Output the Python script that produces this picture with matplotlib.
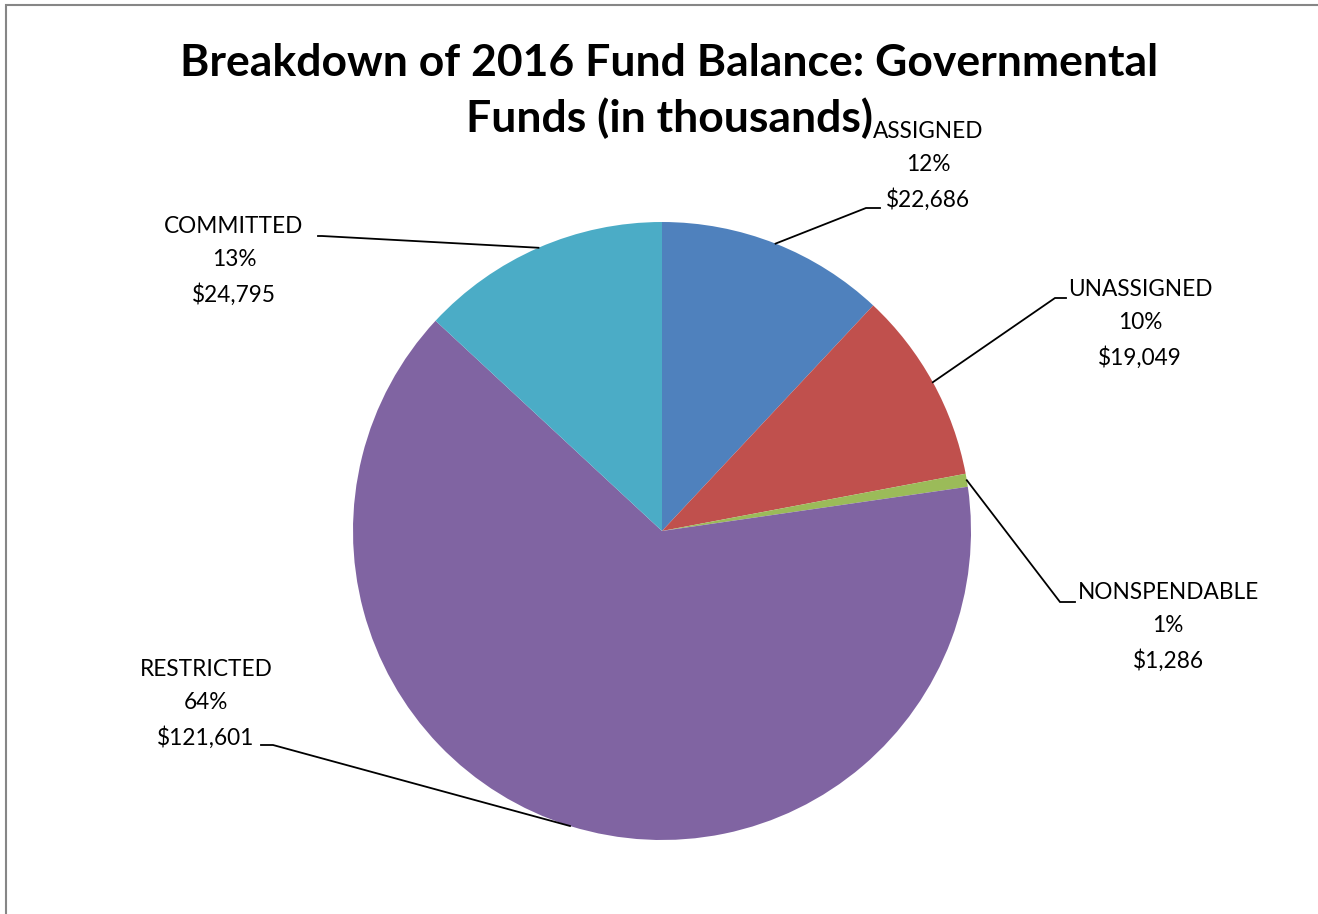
import numpy as np
import matplotlib
matplotlib.use("Agg")
import matplotlib.pyplot as plt
from matplotlib.patches import Rectangle

# fund balance categories (in thousands), clockwise from 12 o'clock
categories = ["ASSIGNED", "UNASSIGNED", "NONSPENDABLE", "RESTRICTED", "COMMITTED"]
amounts = [22686, 19049, 1286, 121601, 24795]
colors = ["#4F81BD", "#C0504D", "#9BBB59", "#8064A2", "#4BACC6"]

# label placement (pixel space) and leader elbows
label_pos = [(928, 166), (1140, 324), (1168, 627), (206, 704), (234, 261)]
elbow = [(866, 208, 880), (1055, 298, 1066), (1060, 602, 1075),
         (273, 745, 261), (322, 236, 318)]

W, H = 1318, 914
fig = plt.figure(figsize=(W / 100, H / 100), dpi=100)
ax = fig.add_axes([0, 0, 1, 1])

# chart frame
fig.patches.append(Rectangle((6 / W, -0.1), 1.2, (H - 5) / H + 0.1, transform=fig.transFigure,
                             fill=False, edgecolor="#868686", linewidth=1.5))

cx, cy, r = 662, H - 531, 309
ax.pie(amounts, colors=colors, startangle=90, counterclock=False,
       center=(cx, cy), radius=r, frame=True)
ax.set_xlim(0, W)
ax.set_ylim(0, H)
ax.set_aspect("equal")
ax.axis("off")

total = sum(amounts)
cum = 0
for i, (cat, val) in enumerate(zip(categories, amounts)):
    mid = 90 - (cum + val / 2) / total * 360
    cum += val
    px = cx + r * np.cos(np.radians(mid))
    py = cy + r * np.sin(np.radians(mid))
    ex, ey, hx = elbow[i]
    ax.plot([px, ex, hx], [py, H - ey, H - ey], color="black", lw=1.3,
            solid_joinstyle="miter")
    pct = round(val / total * 100)
    lx, ly = label_pos[i]
    ax.text(lx, H - ly, f"{cat}\n{pct}%\n${val:,}", ha="center", va="center",
            fontsize=16.3, family="Lato", linespacing=1.72)

ax.text(669, H - 91, "Breakdown of 2016 Fund Balance: Governmental\nFunds (in thousands)",
        ha="center", va="center", fontsize=32, fontweight="bold", family="Lato",
        linespacing=1.42)

fig.savefig("out.png", dpi=100)
